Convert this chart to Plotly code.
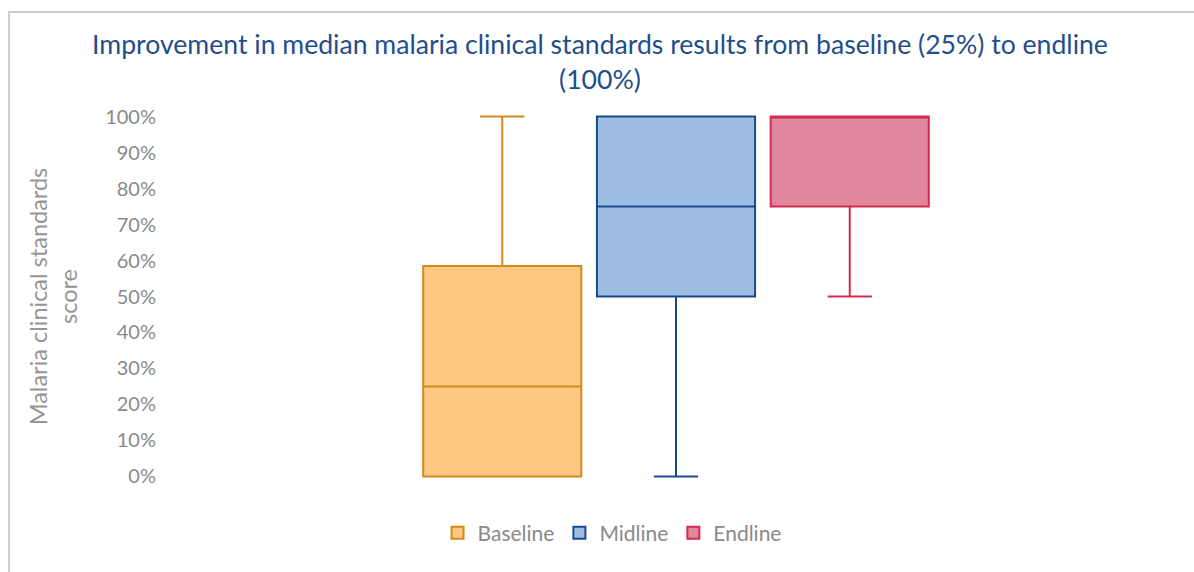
import plotly.graph_objects as go

# summary statistics (percent)
groups = ["Baseline", "Midline", "Endline"]
lower = [0, 0, 50]
q1 = [0, 50, 75]
median = [25, 75, 100]
q3 = [58.5, 100, 100]
upper = [100, 100, 100]

fills = ["#FEC882", "#9EBDE3", "#E0879B"]
lines = ["#D4891E", "#1B4A8C", "#D42A52"]

y_ticks = list(range(0, 101, 10))
y_labels = [f"{v}%" for v in y_ticks]

fig = go.Figure()
for i, name in enumerate(groups):
    fig.add_trace(go.Box(
        name=name,
        x=[""],
        q1=[q1[i]], median=[median[i]], q3=[q3[i]],
        lowerfence=[lower[i]], upperfence=[upper[i]],
        fillcolor=fills[i],
        line=dict(color=lines[i], width=2),
        whiskerwidth=0.28,
        hoverinfo="y",
    ))

fig.update_layout(
    width=1194, height=572,
    paper_bgcolor="white", plot_bgcolor="white",
    margin=dict(l=165, r=7, t=113, b=92),
    boxmode="group", boxgap=0.49, boxgroupgap=0.09,
    font=dict(family="Lato", color="#8a8a8a"),
    title=dict(
        text="Improvement in median malaria clinical standards results from baseline (25%) to endline<br>(100%)",
        x=0.5025, xref="container", xanchor="center", y=0.905, yanchor="top",
        font=dict(family="Lato", size=26.6, color="#1F4E8C"),
    ),
    xaxis=dict(showticklabels=False, showgrid=False, zeroline=False, showline=False),
    yaxis=dict(
        range=[-1, 101], tickvals=y_ticks, ticktext=y_labels,
        showgrid=False, zeroline=False, showline=False,
        tickfont=dict(size=20, color="#8a8a8a"), ticks="", ticklabelstandoff=8,
        title=dict(text="Malaria clinical standards<br>score", standoff=20,
                   font=dict(size=23.5, color="#959595")),
    ),
    legend=dict(orientation="h", x=0.5126, xanchor="center", xref="container",
                y=0.068, yref="container", yanchor="middle",
                font=dict(size=21, color="#8a8a8a"), itemwidth=30),
    shapes=[dict(type="rect", xref="paper", yref="paper",
                 x0=-0.1526, x1=1.03, y0=-0.3, y1=1.275,
                 line=dict(color="#CCCCCC", width=2), fillcolor="rgba(0,0,0,0)",
                 layer="below")],
)

fig.write_html("out.html", config={"displayModeBar": False},
               post_script="document.body.style.margin='0';")
